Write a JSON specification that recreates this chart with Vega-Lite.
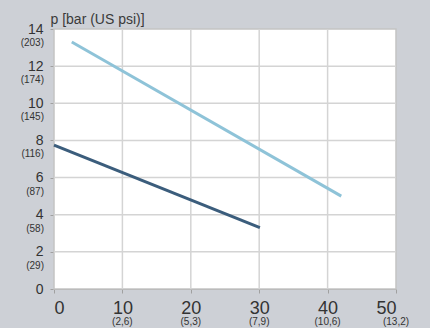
{
  "$schema": "https://vega.github.io/schema/vega-lite/v6.json",
  "width": 342,
  "height": 260,
  "autosize": {"type": "none"},
  "padding": {"left": 54, "top": 29, "right": 34, "bottom": 39},
  "background": "#cdd0d6",
  "config": {
    "font": "Liberation Sans",
    "view": {"stroke": null},
    "axis": {
      "grid": false,
      "zindex": 1,
      "domainColor": "#a0a0a0",
      "tickColor": "#a0a0a0",
      "tickSize": 4,
      "labelColor": "#333333",
      "titleColor": "#3a3a3a",
      "titleFont": "Liberation Sans",
      "labelFont": "Liberation Sans",
      "titleFontWeight": "normal",
      "labelOverlap": false,
      "labelBound": false
    }
  },
  "datasets": {
    "plot": [{"flow": 0, "flow2": 50, "p": 0, "p2": 14}],
    "gridx": [{"flow": 10}, {"flow": 20}, {"flow": 30}, {"flow": 40}],
    "gridy": [{"p": 2}, {"p": 4}, {"p": 6}, {"p": 8}, {"p": 10}, {"p": 12}],
    "lines": [
      {"series": "A", "flow": 2.6, "p": 13.3},
      {"series": "A", "flow": 42, "p": 5.0},
      {"series": "B", "flow": 0, "p": 7.75},
      {"series": "B", "flow": 30.1, "p": 3.3}
    ],
    "ylab": [
      {"p": 2, "t": "(29)"},
      {"p": 4, "t": "(58)"},
      {"p": 6, "t": "(87)"},
      {"p": 8, "t": "(116)"},
      {"p": 10, "t": "(145)"},
      {"p": 12, "t": "(174)"},
      {"p": 14, "t": "(203)"}
    ],
    "xlab": [
      {"flow": 10, "t": "(2,6)"},
      {"flow": 20, "t": "(5,3)"},
      {"flow": 30, "t": "(7,9)"},
      {"flow": 40, "t": "(10,6)"},
      {"flow": 50, "t": "(13,2)"}
    ]
  },
  "layer": [
    {
      "data": {"name": "plot"},
      "mark": {"type": "rect", "fill": "white", "stroke": "#c4c4c4", "strokeWidth": 1.5},
      "encoding": {
        "x": {
          "field": "flow", "type": "quantitative",
          "scale": {"domain": [0, 50], "nice": false, "zero": false},
          "axis": {"values": [0, 10, 20, 30, 40, 50], "labelFontSize": 18, "labelPadding": 6, "title": "v̇ [l/min (US gal/min)]", "titleFontSize": 14, "titleAlign": "right", "titleX": 338, "titleY": -9, "titleBaseline": "alphabetic"}
        },
        "x2": {"field": "flow2"},
        "y": {
          "field": "p", "type": "quantitative",
          "scale": {"domain": [0, 14], "nice": false, "zero": false},
          "axis": {"values": [0, 2, 4, 6, 8, 10, 12, 14], "labelFontSize": 14, "labelPadding": 7, "labelBaseline": "middle", "title": "p [bar (US psi)]", "titleFontSize": 14, "titleAngle": 0, "titleAlign": "left", "titleX": -4, "titleY": -6, "titleBaseline": "alphabetic"}
        },
        "y2": {"field": "p2"}
      }
    },
    {
      "data": {"name": "gridx"},
      "mark": {"type": "rule", "color": "#d4d4d4", "strokeWidth": 1.5},
      "encoding": {
        "x": {
          "field": "flow", "type": "quantitative",
          "scale": {"domain": [0, 50], "nice": false, "zero": false},
          "axis": {"values": [0, 10, 20, 30, 40, 50], "labelFontSize": 18, "labelPadding": 6, "title": "v̇ [l/min (US gal/min)]", "titleFontSize": 14, "titleAlign": "right", "titleX": 338, "titleY": -9, "titleBaseline": "alphabetic"}
        }
      }
    },
    {
      "data": {"name": "gridy"},
      "mark": {"type": "rule", "color": "#d4d4d4", "strokeWidth": 1.5},
      "encoding": {
        "y": {
          "field": "p", "type": "quantitative",
          "scale": {"domain": [0, 14], "nice": false, "zero": false},
          "axis": {"values": [0, 2, 4, 6, 8, 10, 12, 14], "labelFontSize": 14, "labelPadding": 7, "labelBaseline": "middle", "title": "p [bar (US psi)]", "titleFontSize": 14, "titleAngle": 0, "titleAlign": "left", "titleX": -4, "titleY": -6, "titleBaseline": "alphabetic"}
        }
      }
    },
    {
      "data": {"name": "lines"},
      "mark": {"type": "line", "strokeWidth": 3, "clip": false},
      "encoding": {
        "x": {
          "field": "flow", "type": "quantitative",
          "scale": {"domain": [0, 50], "nice": false, "zero": false},
          "axis": {"values": [0, 10, 20, 30, 40, 50], "labelFontSize": 18, "labelPadding": 6, "title": "v̇ [l/min (US gal/min)]", "titleFontSize": 14, "titleAlign": "right", "titleX": 338, "titleY": -9, "titleBaseline": "alphabetic"}
        },
        "y": {
          "field": "p", "type": "quantitative",
          "scale": {"domain": [0, 14], "nice": false, "zero": false},
          "axis": {"values": [0, 2, 4, 6, 8, 10, 12, 14], "labelFontSize": 14, "labelPadding": 7, "labelBaseline": "middle", "title": "p [bar (US psi)]", "titleFontSize": 14, "titleAngle": 0, "titleAlign": "left", "titleX": -4, "titleY": -6, "titleBaseline": "alphabetic"}
        },
        "color": {
          "field": "series", "type": "nominal",
          "scale": {"domain": ["A", "B"], "range": ["#8ec3d8", "#3b5d7c"]},
          "legend": null
        }
      }
    },
    {
      "data": {"name": "ylab"},
      "mark": {"type": "text", "align": "right", "baseline": "middle", "dx": -10, "dy": 14, "fontSize": 10, "color": "#333333"},
      "encoding": {
        "x": {
          "datum": 0, "type": "quantitative",
          "scale": {"domain": [0, 50], "nice": false, "zero": false},
          "axis": {"values": [0, 10, 20, 30, 40, 50], "labelFontSize": 18, "labelPadding": 6, "title": "v̇ [l/min (US gal/min)]", "titleFontSize": 14, "titleAlign": "right", "titleX": 338, "titleY": -9, "titleBaseline": "alphabetic"}
        },
        "y": {
          "field": "p", "type": "quantitative",
          "scale": {"domain": [0, 14], "nice": false, "zero": false},
          "axis": {"values": [0, 2, 4, 6, 8, 10, 12, 14], "labelFontSize": 14, "labelPadding": 7, "labelBaseline": "middle", "title": "p [bar (US psi)]", "titleFontSize": 14, "titleAngle": 0, "titleAlign": "left", "titleX": -4, "titleY": -6, "titleBaseline": "alphabetic"}
        },
        "text": {"field": "t"}
      }
    },
    {
      "data": {"name": "xlab"},
      "mark": {"type": "text", "align": "center", "baseline": "middle", "dy": 33, "fontSize": 10, "color": "#333333"},
      "encoding": {
        "x": {
          "field": "flow", "type": "quantitative",
          "scale": {"domain": [0, 50], "nice": false, "zero": false},
          "axis": {"values": [0, 10, 20, 30, 40, 50], "labelFontSize": 18, "labelPadding": 6, "title": "v̇ [l/min (US gal/min)]", "titleFontSize": 14, "titleAlign": "right", "titleX": 338, "titleY": -9, "titleBaseline": "alphabetic"}
        },
        "y": {
          "datum": 0, "type": "quantitative",
          "scale": {"domain": [0, 14], "nice": false, "zero": false},
          "axis": {"values": [0, 2, 4, 6, 8, 10, 12, 14], "labelFontSize": 14, "labelPadding": 7, "labelBaseline": "middle", "title": "p [bar (US psi)]", "titleFontSize": 14, "titleAngle": 0, "titleAlign": "left", "titleX": -4, "titleY": -6, "titleBaseline": "alphabetic"}
        },
        "text": {"field": "t"}
      }
    }
  ]
}
